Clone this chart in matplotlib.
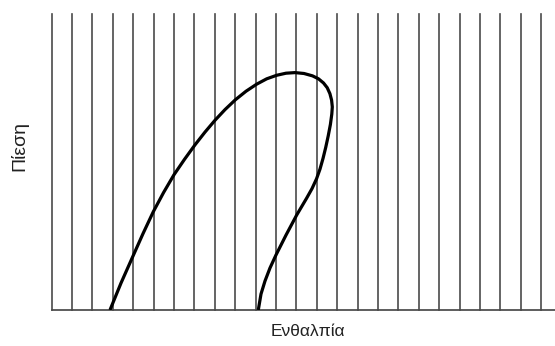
import matplotlib
matplotlib.use("Agg")
import matplotlib.pyplot as plt

# Constant-enthalpy lines (arbitrary enthalpy units)
isenthalps = list(range(0, 25))

# Saturated liquid line (from low pressure up to the critical region)
liquid_h = [2.859, 3.399, 3.973, 4.478, 4.983, 5.488, 5.998, 6.513, 7.028, 7.518,
            8.009, 8.499, 9.004, 9.529, 10.054, 10.544, 11.035, 11.491, 11.932]
liquid_p = [0.000, 0.091, 0.180, 0.258, 0.332, 0.397, 0.457, 0.509, 0.558, 0.601,
            0.641, 0.677, 0.710, 0.739, 0.763, 0.781, 0.793, 0.800, 0.802]

# Saturated vapour line (from the critical region down to low pressure)
vapour_h = [11.932, 12.374, 12.791, 13.085, 13.330, 13.512, 13.644, 13.727, 13.762,
            13.737, 13.669, 13.561, 13.438, 13.306, 13.158, 12.987, 12.766, 12.496,
            12.016, 11.491, 11.001, 10.706, 10.461, 10.265, 10.132]
vapour_p = [0.802, 0.799, 0.791, 0.781, 0.767, 0.751, 0.731, 0.709, 0.686,
            0.662, 0.627, 0.588, 0.549, 0.512, 0.476, 0.443, 0.410, 0.377,
            0.321, 0.253, 0.186, 0.142, 0.098, 0.054, 0.000]

x_label = "Ενθαλπία"
y_label = "Πίεση"

plt.rcParams["font.family"] = ["Liberation Sans", "DejaVu Sans"]

fig = plt.figure(figsize=(5.55, 3.46), dpi=100)
ax = fig.add_axes([51.7 / 555, 36 / 346, (555 - 51.7) / 555, 296 / 346])

for h in isenthalps:
    ax.axvline(h, color="#4a4a4a", lw=1.2, clip_on=False, zorder=1)

ax.plot(liquid_h + vapour_h[1:], liquid_p + vapour_p[1:], color="black", lw=2.3,
        solid_joinstyle="round", solid_capstyle="butt", zorder=3)

ax.set_xlim(0, (555 - 51.7) / 20.39)
ax.set_ylim(0, 1.0)
ax.set_xticks([])
ax.set_yticks([])
for side in ("top", "right", "left"):
    ax.spines[side].set_visible(False)
ax.spines["bottom"].set_color("#4a4a4a")
ax.spines["bottom"].set_linewidth(1.25)

fig.text(308 / 555, 1 - 331 / 346, x_label, ha="center", va="center",
         fontsize=12.5, color="#222222")
fig.text(19 / 555, 1 - 146 / 346, y_label, ha="center", va="center",
         rotation=90, fontsize=14, color="#222222")

fig.savefig("out.png", dpi=100)
